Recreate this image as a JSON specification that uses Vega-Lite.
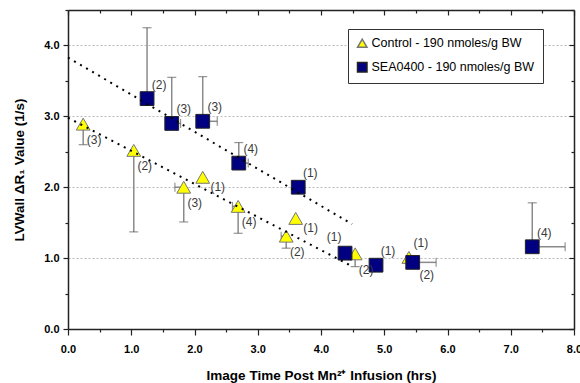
{
  "$schema": "https://vega.github.io/schema/vega-lite/v6.json",
  "width": 506,
  "height": 319,
  "autosize": {"type": "none"},
  "padding": {"left": 68, "top": 10, "right": 6, "bottom": 54},
  "background": "white",
  "config": {
    "view": {"stroke": null},
    "font": "Liberation Sans",
    "axis": {"labelFont": "Liberation Sans", "titleFont": "Liberation Sans", "labelFontWeight": "bold", "labelFontSize": 11, "titleFontWeight": "bold", "titleFontSize": 13.5, "labelColor": "#000", "titleColor": "#000", "domainColor": "#222", "tickColor": "#222", "domainWidth": 1.5, "tickWidth": 1.2, "labelFlush": false, "labelOverlap": false}
  },
  "datasets": {
    "pts": [
      {"series": "Control - 190 nmoles/g BW", "x": 0.24, "y": 2.89, "n": "(3)", "ey": 2.6, "ex": null},
      {"series": "Control - 190 nmoles/g BW", "x": 1.04, "y": 2.52, "n": "(2)", "ey": 1.37, "ex": null},
      {"series": "Control - 190 nmoles/g BW", "x": 1.83, "y": 2.0, "n": "(3)", "ey": 1.51, "ex": 1.69},
      {"series": "Control - 190 nmoles/g BW", "x": 2.13, "y": 2.14, "n": "(1)", "ey": null, "ex": null},
      {"series": "Control - 190 nmoles/g BW", "x": 2.69, "y": 1.73, "n": "(4)", "ey": 1.35, "ex": 2.6},
      {"series": "Control - 190 nmoles/g BW", "x": 3.45, "y": 1.31, "n": "(2)", "ey": 1.14, "ex": 3.37},
      {"series": "Control - 190 nmoles/g BW", "x": 3.6, "y": 1.56, "n": "(1)", "ey": null, "ex": null},
      {"series": "Control - 190 nmoles/g BW", "x": 4.54, "y": 1.06, "n": "(2)", "ey": 0.88, "ex": null},
      {"series": "Control - 190 nmoles/g BW", "x": 5.39, "y": 1.01, "n": "(1)", "ey": null, "ex": null},
      {"series": "SEA0400 - 190 nmoles/g BW", "x": 1.25, "y": 3.25, "n": "(2)", "ey": 4.25, "ex": null},
      {"series": "SEA0400 - 190 nmoles/g BW", "x": 1.64, "y": 2.9, "n": "(3)", "ey": 3.55, "ex": 1.78},
      {"series": "SEA0400 - 190 nmoles/g BW", "x": 2.13, "y": 2.93, "n": "(3)", "ey": 3.56, "ex": 2.36},
      {"series": "SEA0400 - 190 nmoles/g BW", "x": 2.7, "y": 2.34, "n": "(4)", "ey": 2.63, "ex": 2.85},
      {"series": "SEA0400 - 190 nmoles/g BW", "x": 3.64, "y": 2.0, "n": "(1)", "ey": null, "ex": null},
      {"series": "SEA0400 - 190 nmoles/g BW", "x": 4.38, "y": 1.07, "n": "(1)", "ey": null, "ex": null},
      {"series": "SEA0400 - 190 nmoles/g BW", "x": 4.87, "y": 0.9, "n": "(1)", "ey": null, "ex": null},
      {"series": "SEA0400 - 190 nmoles/g BW", "x": 5.45, "y": 0.94, "n": "(2)", "ey": null, "ex": 5.82},
      {"series": "SEA0400 - 190 nmoles/g BW", "x": 7.34, "y": 1.16, "n": "(4)", "ey": 1.78, "ex": 7.86}
    ],
    "trend": [
      {"line": "Control", "x": 0, "y": 2.98},
      {"line": "Control", "x": 4.5, "y": 0.88},
      {"line": "SEA0400", "x": 0, "y": 3.83},
      {"line": "SEA0400", "x": 4.49, "y": 1.48}
    ]
  },
  "resolve": {"axis": {"x": "independent", "y": "independent"}},
  "layer": [
    {
      "data": {"name": "pts"},
      "transform": [{"filter": "datum.ey != null"}],
      "mark": {"type": "rule", "color": "#8a8a8a", "strokeWidth": 1.5},
      "encoding": {
        "x": {"field": "x", "type": "quantitative", "scale": {"domain": [0, 8], "nice": false}, "axis": null},
        "y": {"field": "y", "type": "quantitative", "scale": {"domain": [0, 4.5], "nice": false}, "axis": null},
        "y2": {"field": "ey"}
      }
    },
    {
      "data": {"name": "pts"},
      "transform": [{"filter": "datum.ey != null"}],
      "mark": {"type": "tick", "orient": "horizontal", "color": "#666", "size": 9, "thickness": 1.2},
      "encoding": {
        "x": {"field": "x", "type": "quantitative", "axis": null},
        "y": {"field": "ey", "type": "quantitative", "axis": null}
      }
    },
    {
      "data": {"name": "pts"},
      "transform": [{"filter": "datum.ex != null"}],
      "mark": {"type": "rule", "color": "#8a8a8a", "strokeWidth": 1.5},
      "encoding": {
        "x": {"field": "x", "type": "quantitative", "axis": null},
        "x2": {"field": "ex"},
        "y": {"field": "y", "type": "quantitative", "axis": null}
      }
    },
    {
      "data": {"name": "pts"},
      "transform": [{"filter": "datum.ex != null"}],
      "mark": {"type": "tick", "orient": "vertical", "color": "#666", "size": 9, "thickness": 1.2},
      "encoding": {
        "x": {"field": "ex", "type": "quantitative", "axis": null},
        "y": {"field": "y", "type": "quantitative", "axis": null}
      }
    },
    {
      "data": {"name": "pts"},
      "mark": {"type": "point", "filled": true, "opacity": 1, "strokeWidth": 1, "size": 190},
      "encoding": {
        "x": {
          "field": "x", "type": "quantitative",
          "axis": {
            "orient": "bottom",
            "title": "Image Time Post Mn²⁺ Infusion (hrs)",
            "values": [0, 0.5, 1, 1.5, 2, 2.5, 3, 3.5, 4, 4.5, 5, 5.5, 6, 6.5, 7, 7.5, 8],
            "labelExpr": "datum.value % 1 == 0 ? format(datum.value, '.1f') : ''",
            "tickSize": {"condition": {"test": "datum.value % 1 != 0", "value": 3}, "value": 6},
            "labelPadding": 8,
            "titlePadding": 14,
            "grid": false
          }
        },
        "y": {
          "field": "y", "type": "quantitative",
          "axis": {
            "orient": "left",
            "title": "LVWall ΔR₁ Value (1/s)",
            "values": [0, 0.5, 1, 1.5, 2, 2.5, 3, 3.5, 4, 4.5],
            "labelExpr": "datum.value % 1 == 0 ? format(datum.value, '.1f') : ''",
            "tickSize": {"condition": {"test": "datum.value % 1 != 0", "value": 3}, "value": 5},
            "labelPadding": 4,
            "titlePadding": 17,
            "grid": true,
            "gridDash": [2, 2],
            "gridColor": "#bbbbbb",
            "gridOpacity": {"condition": {"test": "datum.value % 1 != 0 || datum.value == 0", "value": 0}, "value": 1}
          }
        },
        "shape": {
          "field": "series", "type": "nominal",
          "scale": {"domain": ["Control - 190 nmoles/g BW", "SEA0400 - 190 nmoles/g BW"], "range": ["triangle-up", "square"]},
          "legend": {
            "title": null, "orient": "none", "legendX": 280, "legendY": 19,
            "fillColor": "white", "strokeColor": "#333", "padding": 8,
            "labelFont": "Liberation Sans", "labelFontSize": 12.5, "labelColor": "#000", "labelLimit": 400,
            "symbolSize": 90, "rowPadding": 8, "labelOffset": 3,
            "encode": {"symbols": {"update": {"size": {"value": 95}}}}
          }
        },
        "color": {
          "field": "series", "type": "nominal",
          "scale": {"domain": ["Control - 190 nmoles/g BW", "SEA0400 - 190 nmoles/g BW"], "range": ["#ffff00", "#000080"]}
        },
        "stroke": {
          "field": "series", "type": "nominal",
          "scale": {"domain": ["Control - 190 nmoles/g BW", "SEA0400 - 190 nmoles/g BW"], "range": ["#777777", "#222222"]}
        }
      }
    },
    {
      "data": {"name": "trend"},
      "mark": {"type": "line", "color": "#000", "strokeWidth": 2, "strokeDash": [2, 5]},
      "encoding": {
        "x": {"field": "x", "type": "quantitative", "axis": {"orient": "top", "title": null, "labels": false, "grid": false, "values": [0, 0.5, 1, 1.5, 2, 2.5, 3, 3.5, 4, 4.5, 5, 5.5, 6, 6.5, 7, 7.5, 8], "tickSize": {"condition": {"test": "datum.value % 1 != 0", "value": -3}, "value": -5}}},
        "y": {"field": "y", "type": "quantitative", "axis": {"orient": "right", "title": null, "labels": false, "grid": false, "values": [0, 0.5, 1, 1.5, 2, 2.5, 3, 3.5, 4, 4.5], "tickSize": {"condition": {"test": "datum.value % 1 != 0", "value": -3}, "value": -5}}},
        "detail": {"field": "line", "type": "nominal"}
      }
    },
    {
      "data": {"name": "pts"},
      "transform": [{"filter": "datum.series == 'Control - 190 nmoles/g BW' && datum.x != 2.13 && datum.x != 3.6 && datum.x != 5.39"}],
      "mark": {"type": "text", "font": "Liberation Sans", "fontSize": 12, "color": "#3a3a3a", "dx": 11, "dy": 16},
      "encoding": {"x": {"field": "x", "type": "quantitative", "axis": null}, "y": {"field": "y", "type": "quantitative", "axis": null}, "text": {"field": "n"}}
    },
    {
      "data": {"name": "pts"},
      "transform": [{"filter": "datum.series == 'Control - 190 nmoles/g BW' && (datum.x == 2.13 || datum.x == 3.6)"}],
      "mark": {"type": "text", "font": "Liberation Sans", "fontSize": 12, "color": "#3a3a3a", "dx": 15, "dy": 10},
      "encoding": {"x": {"field": "x", "type": "quantitative", "axis": null}, "y": {"field": "y", "type": "quantitative", "axis": null}, "text": {"field": "n"}}
    },
    {
      "data": {"name": "pts"},
      "transform": [{"filter": "(datum.series == 'Control - 190 nmoles/g BW' && datum.x == 5.39) || (datum.series == 'SEA0400 - 190 nmoles/g BW' && datum.x != 4.38 && datum.x != 5.45)"}],
      "mark": {"type": "text", "font": "Liberation Sans", "fontSize": 12, "color": "#3a3a3a", "dx": 12, "dy": -14},
      "encoding": {"x": {"field": "x", "type": "quantitative", "axis": null}, "y": {"field": "y", "type": "quantitative", "axis": null}, "text": {"field": "n"}}
    },
    {
      "data": {"name": "pts"},
      "transform": [{"filter": "datum.series == 'SEA0400 - 190 nmoles/g BW' && datum.x == 4.38"}],
      "mark": {"type": "text", "font": "Liberation Sans", "fontSize": 12, "color": "#3a3a3a", "dx": -11, "dy": -16},
      "encoding": {"x": {"field": "x", "type": "quantitative", "axis": null}, "y": {"field": "y", "type": "quantitative", "axis": null}, "text": {"field": "n"}}
    },
    {
      "data": {"name": "pts"},
      "transform": [{"filter": "datum.series == 'SEA0400 - 190 nmoles/g BW' && datum.x == 5.45"}],
      "mark": {"type": "text", "font": "Liberation Sans", "fontSize": 12, "color": "#3a3a3a", "dx": 14, "dy": 13},
      "encoding": {"x": {"field": "x", "type": "quantitative", "axis": null}, "y": {"field": "y", "type": "quantitative", "axis": null}, "text": {"field": "n"}}
    }
  ]
}
